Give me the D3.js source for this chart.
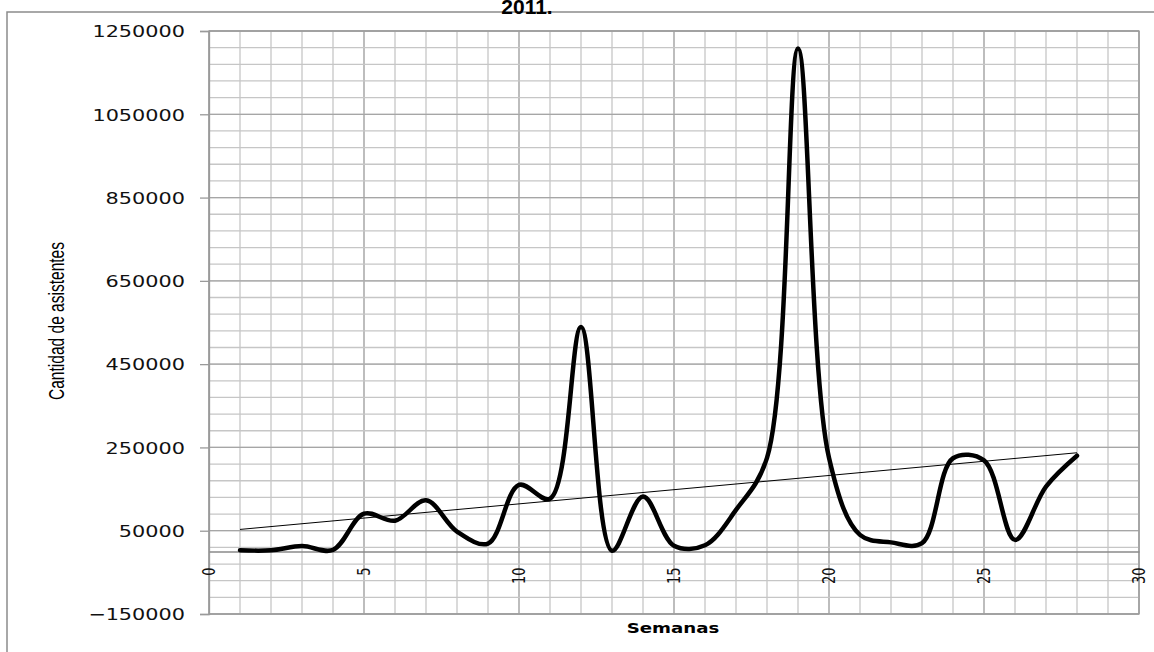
<!DOCTYPE html>
<html>
<head>
<meta charset="utf-8">
<script src="https://cdn.jsdelivr.net/npm/d3@7"></script>
<style>
  body { margin:0; background:#fff; }
  svg { display:block; }
</style>
</head>
<body>
<svg class="chart" width="1154" height="652"></svg>
<script>
// datos
var semanas = [1,2,3,4,5,6,7,8,9,10,11,12,13,14,15,16,17,18,19,20,21,22,23,24,25,26,27,28];
var asistentes = [3000,3000,13000,4000,91000,74000,123000,48000,19000,160000,127000,539000,2000,132000,
                  14000,15000,100000,225000,1208000,225000,40000,22000,20000,224000,219000,28000,156000,230000];
var yTicks = [-150000,50000,250000,450000,650000,850000,1050000,1250000];
var xTicks = [0,5,10,15,20,25,30];
var titulo = "2011.";
var tituloY = "Cantidad de asistentes";
var tituloX = "Semanas";

var sx = 1.3; // el original esta estirado a lo ancho

var svg = d3.select(".chart");

var x = d3.scaleLinear().domain([0,30]).range([209,1139]);
var y = d3.scaleLinear().domain([-150000,1250000]).range([614,31]);

/* marco del grafico */
svg.append("path")
  .attr("d","M7,652 L7,12 L1154,12")
  .attr("fill","none").attr("stroke","#8c8c8c").attr("stroke-width",1.5);

/* rejilla menor y mayor */
var g = svg.append("g");
var minX = d3.range(0,31,1);
var minY = d3.range(-150000,1250001,40000);
g.selectAll(".vmin").data(minX).enter().append("line")
  .attr("x1",d=>x(d)).attr("x2",d=>x(d)).attr("y1",y(1250000)).attr("y2",y(-150000))
  .attr("stroke",d=>d%5===0?"#9a9a9a":"#c6c6c6").attr("stroke-width",1.3);
g.selectAll(".hmin").data(minY).enter().append("line")
  .attr("x1",x(0)).attr("x2",x(30)).attr("y1",d=>y(d)).attr("y2",d=>y(d))
  .attr("stroke","#c6c6c6").attr("stroke-width",1.3);
g.selectAll(".hmaj").data(yTicks).enter().append("line")
  .attr("x1",x(0)).attr("x2",x(30)).attr("y1",d=>y(d)).attr("y2",d=>y(d))
  .attr("stroke","#a6a6a6").attr("stroke-width",1.3);
svg.append("rect")
  .attr("x",x(0)).attr("y",y(1250000)).attr("width",x(30)-x(0)).attr("height",y(-150000)-y(1250000))
  .attr("fill","none").attr("stroke","#9a9a9a").attr("stroke-width",1.3);

/* eje y */
var yAx = d3.axisLeft(y).tickValues(yTicks).tickSize(9).tickFormat(d3.format("d"));
var gy = svg.append("g").attr("transform","translate("+x(0)+",0)").call(yAx);
gy.select(".domain").attr("stroke","#9a9a9a").attr("stroke-width",1.3);
gy.selectAll(".tick line").attr("stroke","#9a9a9a").attr("stroke-width",1.3);
gy.selectAll(".tick text")
  .attr("x",0).attr("dy","0.36em")
  .attr("transform","translate(-24,0) scale("+sx+",1)")
  .style("font-family","'DejaVu Sans', Verdana, sans-serif").style("font-size","16px").attr("fill","#111");

/* eje x cruzando en cero */
var xAx = d3.axisBottom(x).tickValues(xTicks).tickSize(0).tickFormat(d3.format("d"));
var gx = svg.append("g").attr("transform","translate(0,"+y(0)+")").call(xAx);
gx.select(".domain").attr("stroke","#8a8a8a").attr("stroke-width",1.5);
gx.selectAll(".tick text")
  .attr("x",0).attr("y",0).attr("dy",null)
  .attr("text-anchor","end")
  .attr("transform","translate(0,16) scale("+sx+",1) rotate(-90)")
  .attr("dominant-baseline","central")
  .style("font-family","'DejaVu Sans', Verdana, sans-serif").style("font-size","13px").attr("fill","#111");

/* linea de tendencia (minimos cuadrados) */
var mx = d3.mean(semanas), my = d3.mean(asistentes);
var sxy = d3.sum(semanas,(s,i)=>(s-mx)*(asistentes[i]-my));
var sxx = d3.sum(semanas,s=>(s-mx)*(s-mx));
var b = sxy/sxx, a = my-b*mx;
var s0 = semanas[0], s1 = semanas[semanas.length-1];
svg.append("line")
  .attr("x1",x(s0)).attr("y1",y(a+b*s0)).attr("x2",x(s1)).attr("y2",y(a+b*s1))
  .attr("stroke","#000").attr("stroke-width",1);

/* serie suavizada */
var linea = d3.line().x((d,i)=>x(semanas[i])).y(d=>y(d)).curve(d3.curveCatmullRom.alpha(0.5));
svg.append("path").datum(asistentes)
  .attr("d",linea)
  .attr("fill","none").attr("stroke","#000").attr("stroke-width",4.5)
  .attr("stroke-linejoin","round").attr("stroke-linecap","round");

/* titulos */
svg.append("text")
  .attr("x",527).attr("y",14)
  .attr("text-anchor","middle")
  .style("font-family","'Liberation Sans', Arial, sans-serif").style("font-weight","bold").style("font-size","21px")
  .text(titulo);
svg.append("text")
  .attr("transform","translate(64,321) scale("+sx+",1) rotate(-90)")
  .attr("text-anchor","middle")
  .attr("textLength",158).attr("lengthAdjust","spacingAndGlyphs")
  .style("font-family","'Liberation Sans Narrow', 'Arial Narrow', sans-serif").style("font-size","17px")
  .text(tituloY);
svg.append("text")
  .attr("transform","translate(673,633) scale("+sx+",1)")
  .attr("text-anchor","middle")
  .style("font-family","'DejaVu Sans', Verdana, sans-serif").style("font-weight","bold").style("font-size","14px")
  .text(tituloX);
</script>
</body>
</html>
